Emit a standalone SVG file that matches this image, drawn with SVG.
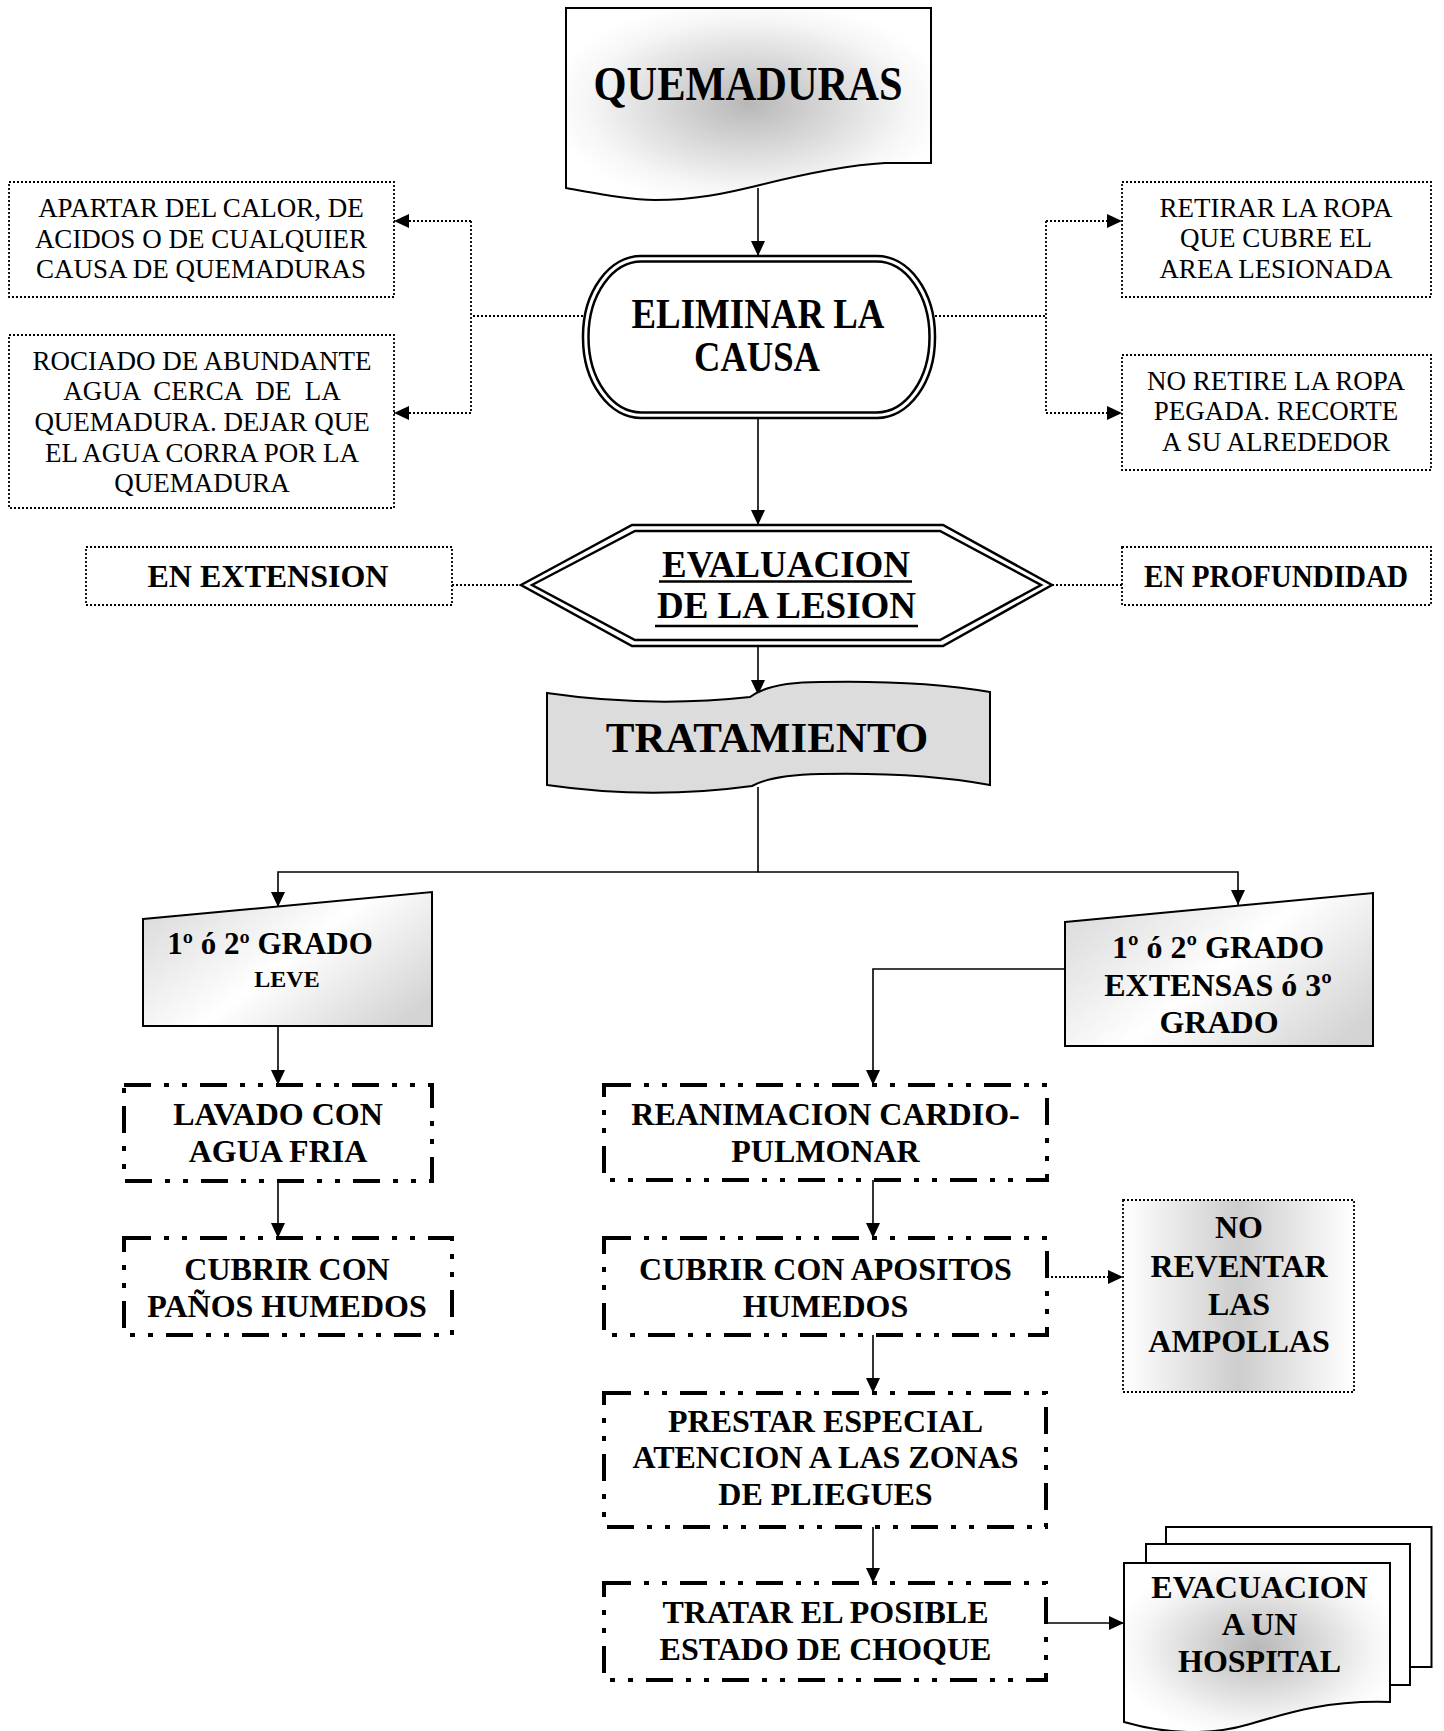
<svg xmlns="http://www.w3.org/2000/svg" width="1444" height="1731" viewBox="0 0 1444 1731">
<style>
.b{font-family:"Liberation Serif","Times New Roman",serif;font-weight:bold;text-anchor:middle;fill:#000}
.r{font-family:"Liberation Serif","Times New Roman",serif;text-anchor:middle;fill:#000;font-size:27px}
.f32{font-size:32px}
.dot{fill:none;stroke:#000;stroke-width:1.8;stroke-dasharray:2 2}
.ddd{fill:#fff;stroke:#000;stroke-width:4;stroke-dasharray:27 13 5 13 5 13}
.sol{fill:none;stroke:#000;stroke-width:1.6}
.shp{stroke:#000;stroke-width:2}
.dbl{fill:none;stroke:#000;stroke-width:2.5}
</style>
<defs>
<marker id="ah" markerUnits="userSpaceOnUse" markerWidth="15" markerHeight="14" viewBox="0 0 15 14" refX="15" refY="7" orient="auto">
<path d="M0,0 L15,7 L0,14 Z" fill="#000"/>
</marker>
<radialGradient id="rg" cx="0.5" cy="0.5" r="0.55">
<stop offset="0" stop-color="#b8b8b8"/>
<stop offset="0.8" stop-color="#f6f6f6"/>
<stop offset="1" stop-color="#ffffff"/>
</radialGradient>
<linearGradient id="lg" x1="0" y1="0.2" x2="1" y2="0.8">
<stop offset="0" stop-color="#dcdcdc"/>
<stop offset="0.5" stop-color="#ffffff"/>
<stop offset="1" stop-color="#d4d4d4"/>
</linearGradient>
<linearGradient id="hg" x1="0" y1="0" x2="1" y2="0">
<stop offset="0" stop-color="#ffffff"/>
<stop offset="0.5" stop-color="#cdcdcd"/>
<stop offset="1" stop-color="#ffffff"/>
</linearGradient>
</defs>
<rect width="1444" height="1731" fill="#fff"/>

<g id="connectors">
<path class="sol" d="M758,188 V256" marker-end="url(#ah)"/>
<path class="sol" d="M758,418 V525" marker-end="url(#ah)"/>
<path class="sol" d="M758,646 V695" marker-end="url(#ah)"/>
<path class="sol" d="M758,787 V872 H278 V907" marker-end="url(#ah)"/>
<path class="sol" d="M758,872 H1238 V905" marker-end="url(#ah)"/>
<path class="sol" d="M1065,969 H873 V1085" marker-end="url(#ah)"/>
<path class="sol" d="M278,1026 V1085" marker-end="url(#ah)"/>
<path class="sol" d="M278,1181 V1238" marker-end="url(#ah)"/>
<path class="sol" d="M873,1180 V1238" marker-end="url(#ah)"/>
<path class="sol" d="M873,1335 V1393" marker-end="url(#ah)"/>
<path class="sol" d="M873,1527 V1583" marker-end="url(#ah)"/>
<path class="sol" d="M1046,1623 H1124" marker-end="url(#ah)"/>
<path class="dot" d="M1047,1277 H1123" marker-end="url(#ah)"/>
<path class="dot" d="M583,316 H471 M471,221 V413"/>
<path class="dot" d="M471,221 H394" marker-end="url(#ah)"/>
<path class="dot" d="M471,413 H394" marker-end="url(#ah)"/>
<path class="dot" d="M935,316 H1046 M1046,221 V413"/>
<path class="dot" d="M1046,221 H1122" marker-end="url(#ah)"/>
<path class="dot" d="M1046,413 H1122" marker-end="url(#ah)"/>
<path class="dot" d="M452,585 H521"/>
<path class="dot" d="M1052,585 H1122"/>
</g>

<g id="quemaduras">
<path class="shp" fill="url(#rg)" d="M566,8 H931 V163 H885 C850,165 800,175 760,185 C730,192 700,200 655,200 C630,200 600,194 566,188 Z"/>
<text class="b" x="748" y="100" font-size="48" textLength="309" lengthAdjust="spacingAndGlyphs">QUEMADURAS</text>
</g>

<g id="apartar">
<rect class="dot" x="9" y="182" width="385" height="115"/>
<text class="r" x="201" y="217">APARTAR DEL CALOR, DE</text>
<text class="r" x="201" y="248">ACIDOS O DE CUALQUIER</text>
<text class="r" x="201" y="278">CAUSA DE QUEMADURAS</text>
</g>

<g id="rociado">
<rect class="dot" x="9" y="335" width="385" height="173"/>
<text class="r" x="202" y="370">ROCIADO DE ABUNDANTE</text>
<text class="r" x="202" y="400" xml:space="preserve">AGUA  CERCA  DE  LA</text>
<text class="r" x="202" y="431">QUEMADURA. DEJAR QUE</text>
<text class="r" x="202" y="462">EL AGUA CORRA POR LA</text>
<text class="r" x="202" y="492">QUEMADURA</text>
</g>

<g id="retirar">
<rect class="dot" x="1122" y="182" width="309" height="115"/>
<text class="r" x="1276" y="217">RETIRAR LA ROPA</text>
<text class="r" x="1276" y="247">QUE CUBRE EL</text>
<text class="r" x="1276" y="278">AREA LESIONADA</text>
</g>

<g id="noretire">
<rect class="dot" x="1122" y="355" width="309" height="115"/>
<text class="r" x="1276" y="390">NO RETIRE LA ROPA</text>
<text class="r" x="1276" y="420">PEGADA. RECORTE</text>
<text class="r" x="1276" y="451">A SU ALREDEDOR</text>
</g>

<g id="eliminar">
<rect class="dbl" x="583" y="256" width="352" height="162" rx="58" ry="80"/>
<rect class="dbl" x="588.5" y="261.5" width="341" height="151" rx="53" ry="75"/>
<text class="b" x="758" y="328" font-size="42" textLength="253" lengthAdjust="spacingAndGlyphs">ELIMINAR LA</text>
<text class="b" x="757" y="371" font-size="42" textLength="126" lengthAdjust="spacingAndGlyphs">CAUSA</text>
</g>

<g id="extension">
<rect class="dot" x="86" y="547" width="366" height="58"/>
<text class="b" x="268" y="587" font-size="32">EN EXTENSION</text>
</g>

<g id="profundidad">
<rect class="dot" x="1122" y="547" width="309" height="58"/>
<text class="b" x="1276" y="587" font-size="31" textLength="264" lengthAdjust="spacingAndGlyphs">EN PROFUNDIDAD</text>
</g>

<g id="evaluacion">
<polygon class="dbl" fill="#fff" points="521,585 632,525 943,525 1052,585 943,646 632,646"/>
<polygon class="dbl" points="532,585 635,531 940,531 1041,585 940,640 635,640"/>
<text class="b" x="786" y="577" font-size="37">EVALUACION</text>
<line x1="659" y1="581.5" x2="912" y2="581.5" stroke="#000" stroke-width="2.5"/>
<text class="b" x="786.5" y="618" font-size="37">DE LA LESION</text>
<line x1="655" y1="626" x2="918" y2="626" stroke="#000" stroke-width="2.5"/>
</g>

<g id="tratamiento">
<path class="shp" fill="#dcdcdc" d="M547,693 Q650,708 750,697 Q770,682 820,682 Q920,680 990,692 V785 Q920,772 820,774 Q772,775 752,786 Q650,800 547,785 Z"/>
<text class="b" x="767" y="752" font-size="43">TRATAMIENTO</text>
</g>

<g id="leve">
<polygon class="shp" fill="url(#lg)" points="143,919 432,892 432,1026 143,1026"/>
<text class="b" x="270" y="954" font-size="31">1º ó 2º GRADO</text>
<text class="b" x="287" y="987" font-size="24">LEVE</text>
</g>

<g id="extensas">
<polygon class="shp" fill="url(#lg)" points="1065,922 1373,893 1373,1046 1065,1046"/>
<text class="b f32" x="1218" y="958">1º ó 2º GRADO</text>
<text class="b f32" x="1218" y="996">EXTENSAS ó 3º</text>
<text class="b f32" x="1219" y="1033">GRADO</text>
</g>

<g id="lavado">
<rect class="ddd" x="124" y="1085" width="308" height="96"/>
<text class="b f32" x="278" y="1125">LAVADO CON</text>
<text class="b f32" x="278" y="1162">AGUA FRIA</text>
</g>

<g id="panos">
<rect class="ddd" x="124" y="1238" width="328" height="97"/>
<text class="b f32" x="287" y="1280">CUBRIR CON</text>
<text class="b f32" x="287" y="1317">PAÑOS HUMEDOS</text>
</g>

<g id="reanimacion">
<rect class="ddd" x="604" y="1085" width="443" height="95"/>
<text class="b f32" x="825.5" y="1125">REANIMACION CARDIO-</text>
<text class="b f32" x="825.5" y="1162">PULMONAR</text>
</g>

<g id="apositos">
<rect class="ddd" x="604" y="1238" width="443" height="97"/>
<text class="b f32" x="825.5" y="1280">CUBRIR CON APOSITOS</text>
<text class="b f32" x="825.5" y="1317">HUMEDOS</text>
</g>

<g id="ampollas">
<rect x="1123" y="1200" width="231" height="192" fill="url(#hg)" stroke="#000" stroke-width="1.8" stroke-dasharray="2 2"/>
<text class="b f32" x="1239" y="1238">NO</text>
<text class="b f32" x="1239" y="1277">REVENTAR</text>
<text class="b f32" x="1239" y="1315">LAS</text>
<text class="b f32" x="1239" y="1352">AMPOLLAS</text>
</g>

<g id="prestar">
<rect class="ddd" x="604" y="1393" width="442" height="134"/>
<text class="b f32" x="825.5" y="1432">PRESTAR ESPECIAL</text>
<text class="b f32" x="825.5" y="1468">ATENCION A LAS ZONAS</text>
<text class="b f32" x="825.5" y="1505">DE PLIEGUES</text>
</g>

<g id="tratar">
<rect class="ddd" x="604" y="1583" width="442" height="97"/>
<text class="b f32" x="825.5" y="1623">TRATAR EL POSIBLE</text>
<text class="b f32" x="825.5" y="1660">ESTADO DE CHOQUE</text>
</g>

<g id="evacuacion">
<rect class="shp" fill="#fff" x="1166" y="1527" width="265.5" height="140"/>
<rect class="shp" fill="#fff" x="1146" y="1544" width="264" height="141"/>
<path class="shp" fill="url(#rg)" d="M1124,1563 H1390 V1702 C1330,1700 1290,1712 1250,1724 C1210,1736 1165,1734 1124,1722 Z"/>
<text class="b f32" x="1259.5" y="1598">EVACUACION</text>
<text class="b f32" x="1259.5" y="1635">A UN</text>
<text class="b f32" x="1259.5" y="1672">HOSPITAL</text>
</g>
</svg>
